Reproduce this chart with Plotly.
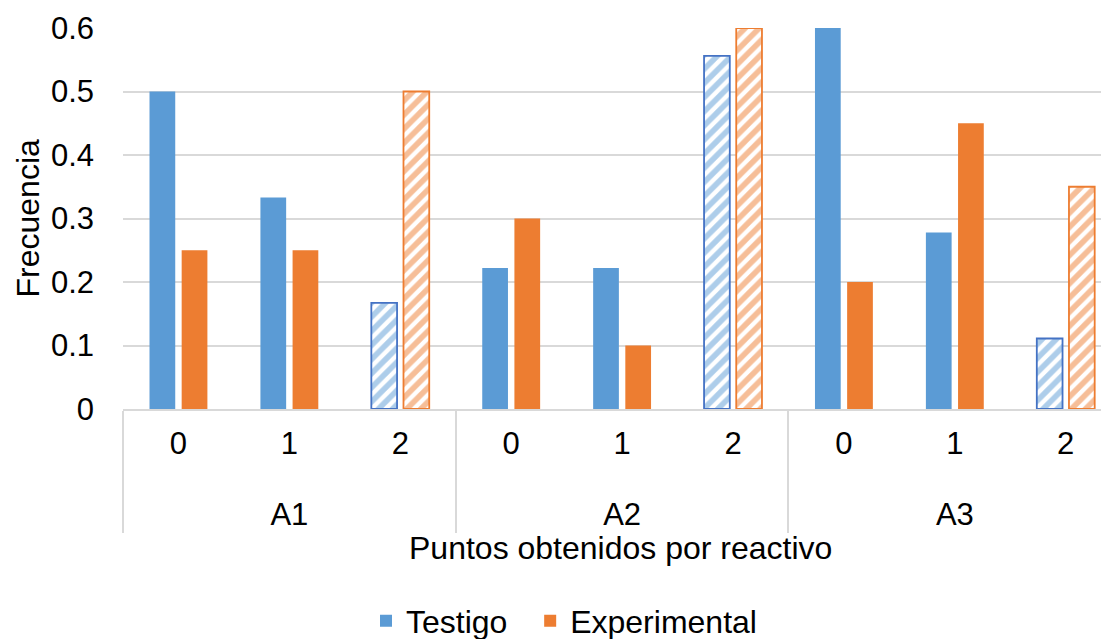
import plotly.graph_objects as go

groups = ["A1", "A2", "A3"]
points = ["0", "1", "2"]
testigo = [0.5, 0.333, 0.167, 0.222, 0.222, 0.556, 0.611, 0.278, 0.111]
experimental = [0.25, 0.25, 0.5, 0.3, 0.1, 0.6, 0.2, 0.45, 0.35]
y_ticks = [0, 0.1, 0.2, 0.3, 0.4, 0.5, 0.6]
y_tick_labels = ["0", "0.1", "0.2", "0.3", "0.4", "0.5", "0.6"]

BLUE = "#5B9BD5"
BLUE_EDGE = "#4472C4"
ORANGE = "#ED7D31"
GRID = "#D9D9D9"
FONT = "Liberation Sans, Arial, sans-serif"
FS = 31

# the page puts the figure 8 px in from the top-left corner of the window
W, H = 1101, 631
PLOT_L, PLOT_T, PLOT_B = 115, 20, 401

# group labels carry a leading line break so they sit lower, as in the original
x_outer = ["<br>" + g for g in groups for _ in points]
x_inner = [p for _ in groups for p in points]
hatched = [p == points[-1] for p in x_inner]
n_cat = len(x_inner)
plot_h = PLOT_B - PLOT_T
plot_w = W - PLOT_L


def series(name, values, color, edge):
    return go.Bar(
        name=name,
        x=[x_outer, x_inner],
        y=values,
        marker=dict(
            color=color,
            pattern=dict(
                shape=["/" if h else "" for h in hatched],
                fgcolor=color,
                bgcolor="white",
                size=10,
                solidity=0.56,
            ),
            line=dict(
                color=edge,
                width=[1.8 if h else 0 for h in hatched],
            ),
        ),
    )


fig = go.Figure([
    series("Testigo\u00a0\u00a0", testigo, BLUE, BLUE_EDGE),
    series("Experimental", experimental, ORANGE, ORANGE),
])

fig.update_layout(
    width=W,
    height=H,
    margin=dict(l=PLOT_L, r=0, t=PLOT_T, b=H - PLOT_B),
    paper_bgcolor="white",
    plot_bgcolor="white",
    barmode="group",
    bargap=0.42,
    bargroupgap=0.2,
    font=dict(family=FONT, size=FS, color="#000000"),
    showlegend=True,
    legend=dict(
        orientation="h",
        x=(556 - PLOT_L) / plot_w,
        xanchor="center",
        xref="paper",
        yref="container",
        y=(H - 613) / H,
        yanchor="middle",
        font=dict(size=32),
        itemwidth=30,
        traceorder="normal",
    ),
    annotations=[
        dict(text="Puntos obtenidos por reactivo", xref="paper", yref="paper",
             x=(612 - PLOT_L) / plot_w, y=(PLOT_B - 540) / plot_h,
             xanchor="center", yanchor="middle",
             showarrow=False, font=dict(size=32)),
        dict(text="Frecuencia", xref="paper", yref="paper",
             x=-(PLOT_L - 19) / plot_w, xanchor="center", y=0.5, yanchor="middle",
             textangle=-90, showarrow=False, font=dict(size=32)),
    ],
)

fig.update_xaxes(
    type="multicategory",
    range=[-0.5, n_cat - 0.5 - 0.11],
    automargin=False,
    showline=True,
    linecolor=GRID,
    linewidth=1.5,
    showgrid=False,
    ticks="",
    showdividers=True,
    dividercolor=GRID,
    dividerwidth=1.5,
    ticklabelstandoff=6,
    tickfont=dict(size=FS),
)
fig.update_yaxes(
    range=[0, 0.6],
    automargin=False,
    tickvals=y_ticks,
    ticktext=y_tick_labels,
    showgrid=True,
    gridcolor=GRID,
    gridwidth=1.5,
    zeroline=False,
    showline=False,
    ticks="",
    ticklabelstandoff=28,
    tickfont=dict(size=FS),
)

fig.write_html("out.html")
